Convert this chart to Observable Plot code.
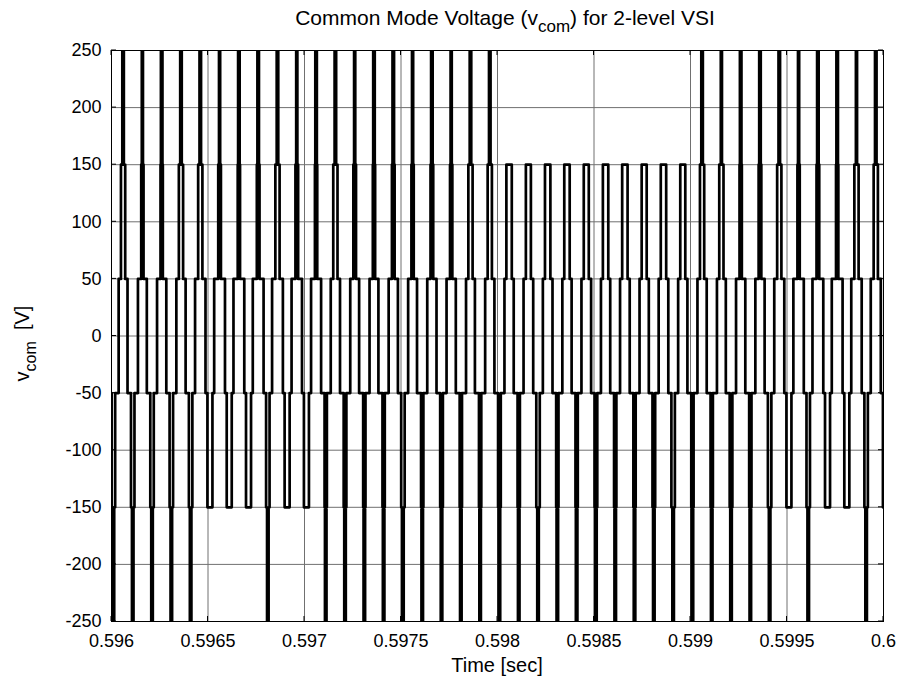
<!DOCTYPE html>
<html>
<head>
<meta charset="utf-8">
<script src="https://cdn.jsdelivr.net/npm/d3@7"></script>
<script src="https://cdn.jsdelivr.net/npm/@observablehq/plot@0.6"></script>
<style>
  body { margin: 0; background: #fff; }
  svg { display: block; }
</style>
</head>
<body>
<div id="chart"></div>
<script>
// Axis ticks
const xTicks = [0.596, 0.5965, 0.597, 0.5975, 0.598, 0.5985, 0.599, 0.5995, 0.6];
const xTickLabels = ["0.596", "0.5965", "0.597", "0.5975", "0.598", "0.5985", "0.599", "0.5995", "0.6"];
const yTicks = [-250, -200, -150, -100, -50, 0, 50, 100, 150, 200, 250];

// Switching pattern of the common-mode voltage, in microseconds.
// One carrier period holds one positive peak and one negative trough.
const windowStart = 0.596;         // s
const windowLengthUs = 4000;
const carrierPeriodUs = 100;
const firstPeakUs = 60;
const firstTroughUs = 10;

// Half-widths (us) of the dwell at or above +250 / +150 / +50 around each peak
const peakHalf250 = [4, 3, 4, 4, 4, 3, 4, 4, 4, 3, 4, 4, 3, 4, 4, 3, 4, 3, 4, 4,
                     0, 0, 0, 0, 0, 0, 0, 0, 0, 0,
                     4, 3, 4, 4, 4, 3, 4, 4, 3, 4];
const peakHalf150 = [11, 6, 6, 11, 11, 7, 6, 7, 11, 7, 6, 11, 7, 6, 7, 6, 7, 6, 11, 11,
                     14, 13, 14, 14, 13, 14, 14, 13, 14, 13,
                     11, 11, 6, 7, 11, 6, 7, 6, 11, 11];
const peakHalf50 = [23, 23, 24, 24, 27, 28, 28, 28, 28, 27, 26,
                    24, 23, 23, 24, 23, 24, 24, 23, 24,
                    24, 25, 25, 24, 25, 24, 25, 24, 25, 24,
                    24, 23, 24, 24, 26, 27, 28, 28, 27, 26];

// Half-widths (us) of the dwell at or below -250 / -150 around each trough
const troughHalf250 = [4, 4, 4, 4, 4,
                       0, 0, 0, 4, 0, 0,
                       4, 4, 4, 4, 4, 4, 4, 4, 4, 4, 4, 4, 4, 4, 4, 4, 4, 4, 4, 4, 4, 4, 4,
                       4, 0, 4, 0, 0, 4, 0];
const troughHalf150 = [9, 9, 9, 9, 9,
                       13, 13, 13, 9, 13, 13,
                       6, 7, 6, 6, 9, 6, 7, 6, 6, 7, 6, 9, 6, 6, 7, 6, 6, 7, 9, 6, 6, 7, 6,
                       9, 13, 9, 13, 13, 9, 13];

// Build the step sequence (time in us, level in V)
const events = [];
const add = (us, v) => events.push([us, v]);
for (let j = 0; j < troughHalf250.length; j++) {
  const b = firstTroughUs + j * carrierPeriodUs;
  add(b - troughHalf150[j], -150);
  if (troughHalf250[j] > 0) { add(b - troughHalf250[j], -250); add(b + troughHalf250[j], -150); }
  add(b + troughHalf150[j], -50);
  if (j < peakHalf50.length) {
    const p = firstPeakUs + j * carrierPeriodUs;
    add(p - peakHalf50[j], 50);
    add(p - peakHalf150[j], 150);
    if (peakHalf250[j] > 0) { add(p - peakHalf250[j], 250); add(p + peakHalf250[j], 150); }
    add(p + peakHalf150[j], 50);
    add(p + peakHalf50[j], -50);
  }
}
const toSec = us => windowStart + us * 1e-6;
let level = -50;
const steps = [];
for (const [us, v] of events) {
  if (us <= 0) { level = v; continue; }
  if (steps.length === 0) steps.push({t: toSec(0), v: level});
  if (us >= windowLengthUs) break;
  steps.push({t: toSec(us), v});
  level = v;
}
steps.push({t: toSec(windowLengthUs), v: level});

const font = "Liberation Sans, Arial, Helvetica, sans-serif";
const W = 915, H = 686;

const plot = Plot.plot({
  width: W,
  height: H,
  marginLeft: 111,
  marginRight: 32,
  marginTop: 50,
  marginBottom: 65,
  style: {fontFamily: font, fontSize: "18px", background: "#fff", color: "#000"},
  x: {domain: [0.596, 0.6]},
  y: {domain: [-250, 250]},
  marks: [
    Plot.ruleX(xTicks, {stroke: "#707070", strokeWidth: 1}),
    Plot.ruleY(yTicks, {stroke: "#707070", strokeWidth: 1}),
    Plot.line(steps, {x: "t", y: "v", curve: "step-after", stroke: "black", strokeWidth: 2.7, clip: true}),
    Plot.frame({stroke: "black", strokeWidth: 1}),
    Plot.axisX({ticks: xTicks, tickSize: 0, tickPadding: 13, fontSize: 18,
                tickFormat: (d, i) => xTickLabels[i], label: null}),
    Plot.axisY({ticks: yTicks, tickSize: 0, tickPadding: 10, fontSize: 18,
                tickFormat: d => String(d), label: null})
  ]
});

document.getElementById("chart").appendChild(plot);

// Inward tick marks on all four sides, plus title and axis labels
const svg = d3.select(plot);
const sx = plot.scale("x"), sy = plot.scale("y");
const [x0, x1] = sx.range, [y0, y1] = sy.range; // y0 bottom, y1 top
const tickLen = 5;
const g = svg.append("g").attr("stroke", "black").attr("stroke-width", 1);
for (const v of xTicks) {
  const x = sx.apply(v);
  g.append("line").attr("x1", x).attr("x2", x).attr("y1", y0).attr("y2", y0 - tickLen);
  g.append("line").attr("x1", x).attr("x2", x).attr("y1", y1).attr("y2", y1 + tickLen);
}
for (const v of yTicks) {
  const y = sy.apply(v);
  g.append("line").attr("x1", x0).attr("x2", x0 + tickLen).attr("y1", y).attr("y2", y);
  g.append("line").attr("x1", x1).attr("x2", x1 - tickLen).attr("y1", y).attr("y2", y);
}

const cx = (x0 + x1) / 2, cy = (y0 + y1) / 2;
const title = svg.append("text")
  .attr("x", cx + 8).attr("y", 25)
  .attr("text-anchor", "middle")
  .attr("font-family", font).attr("font-size", 21).attr("fill", "black");
title.append("tspan").text("Common Mode Voltage (v");
title.append("tspan").attr("font-size", 17).attr("dy", 7).text("com");
title.append("tspan").attr("dy", -7).text(") for 2-level VSI");

svg.append("text")
  .attr("x", cx).attr("y", 672)
  .attr("text-anchor", "middle")
  .attr("font-family", font).attr("font-size", 20).attr("fill", "black")
  .text("Time [sec]");

const ylab = svg.append("text")
  .attr("transform", `translate(29,${cy + 8}) rotate(-90)`)
  .attr("text-anchor", "middle")
  .attr("font-family", font).attr("font-size", 20).attr("fill", "black");
ylab.append("tspan").text("v");
ylab.append("tspan").attr("font-size", 16).attr("dy", 7).text("com");
ylab.append("tspan").attr("dy", -7).text("  [V]");
</script>
</body>
</html>
